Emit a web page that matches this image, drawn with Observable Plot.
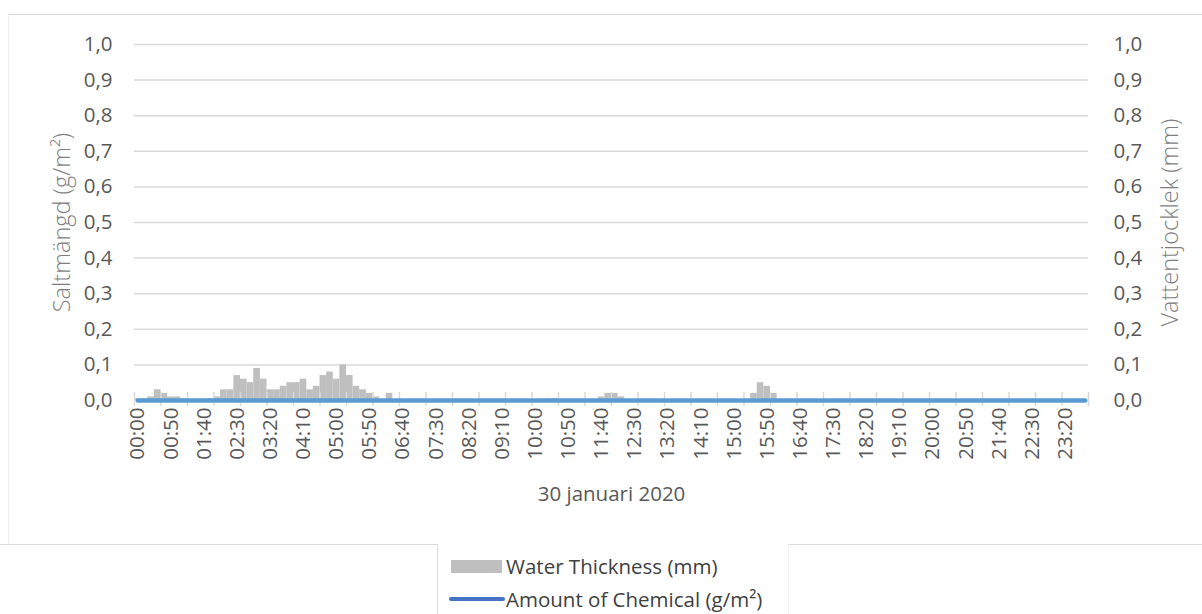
<!DOCTYPE html>
<html>
<head>
<meta charset="utf-8">
<script src="https://cdn.jsdelivr.net/npm/d3@7"></script>
<script src="https://cdn.jsdelivr.net/npm/@observablehq/plot@0.6"></script>
<style>
  html, body { margin: 0; padding: 0; background: #fff; overflow: hidden; }
  #wrap { position: relative; width: 1202px; height: 614px; font-family: "Open Sans", sans-serif; }
  .ln { position: absolute; background: #d9d9d9; }
  #legend { position: absolute; left: 438px; top: 545px; width: 349px; height: 69px; }
  .item { position: absolute; left: 0; display: flex; align-items: center; font-size: 20.5px; color: #404040; white-space: nowrap; letter-spacing: 0px; }
  .sw-bar { width: 51px; height: 13px; background: #bfbfbf; margin-left: 13px; margin-right: 4px; }
  .sw-line { width: 56px; height: 4px; background: #4472c4; border-radius: 2px; margin-left: 11px; margin-right: 1px; }
</style>
</head>
<body>
<div id="wrap">
  <div id="chart"></div>
  <div class="ln" style="left:8px; top:14px; width:1194px; height:1px;"></div>
  <div class="ln" style="left:8px; top:14px; width:1px; height:530px; background:#f0f0f0;"></div>
  <div class="ln" style="left:0px; top:544px; width:438px; height:1px;"></div>
  <div class="ln" style="left:788px; top:544px; width:414px; height:1px;"></div>
  <div class="ln" style="left:437px; top:544px; width:1px; height:70px;"></div>
  <div class="ln" style="left:788px; top:544px; width:1px; height:70px; background:#f0f0f0;"></div>
  <div id="legend">
    <div class="item" style="top:7px;"><span class="sw-bar"></span><span id="lg1"></span></div>
    <div class="item" style="top:40px;"><span class="sw-line"></span><span id="lg2"></span></div>
  </div>
</div>
<script>
// ---- data ----
const xTitle = "30 januari 2020";
const yLeftTitle = "Saltmängd (g/m²)";
const yRightTitle = "Vattentjocklek (mm)";
const seriesNames = ["Water Thickness (mm)", "Amount of Chemical (g/m²)"];

// 10-minute categories over the day
const times = [];
for (let h = 0; h < 24; h++) for (let m = 0; m < 60; m += 10)
  times.push(String(h).padStart(2, "0") + ":" + String(m).padStart(2, "0"));

const xTickLabels = ["00:00","00:50","01:40","02:30","03:20","04:10","05:00","05:50","06:40","07:30",
  "08:20","09:10","10:00","10:50","11:40","12:30","13:20","14:10","15:00","15:50","16:40","17:30",
  "18:20","19:10","20:00","20:50","21:40","22:30","23:20"];

const yTicks = [0, 0.1, 0.2, 0.3, 0.4, 0.5, 0.6, 0.7, 0.8, 0.9, 1.0];
const yTickLabels = ["0,0","0,1","0,2","0,3","0,4","0,5","0,6","0,7","0,8","0,9","1,0"];

// Water thickness (mm), one value per 10-minute category (144)
const water = [
  0.005,0.005,0.01,0.03,0.02,0.01,0.01,0.005,0,0,0,0.005,
  0.01,0.03,0.03,0.07,0.06,0.05,0.09,0.06,0.03,0.03,0.04,0.05,
  0.05,0.06,0.03,0.04,0.07,0.08,0.06,0.10,0.07,0.04,0.03,0.02,
  0.01,0,0.02,0,0,0,0,0,0,0,0,0,
  0,0,0,0,0,0,0,0,0,0,0,0,
  0,0,0.005,0.005,0,0,0,0,0,0,0.01,0.02,
  0.02,0.01,0,0,0,0,0,0,0,0,0,0,
  0,0,0,0,0,0,0,0,0,0.02,0.05,0.04,
  0.02,0,0,0,0,0,0,0,0,0,0,0,
  0,0,0,0,0,0,0,0,0,0,0,0,
  0,0,0,0,0,0,0,0,0,0,0,0,
  0,0,0,0,0,0,0,0,0,0,0,0
];

// Amount of chemical (g/m²), one value per category (144)
const chemical = [
  0,0,0,0,0,0,0,0,0,0,0,0, 0,0,0,0,0,0,0,0,0,0,0,0,
  0,0,0,0,0,0,0,0,0,0,0,0, 0,0,0,0,0,0,0,0,0,0,0,0,
  0,0,0,0,0,0,0,0,0,0,0,0, 0,0,0,0,0,0,0,0,0,0,0,0,
  0,0,0,0,0,0,0,0,0,0,0,0, 0,0,0,0,0,0,0,0,0,0,0,0,
  0,0,0,0,0,0,0,0,0,0,0,0, 0,0,0,0,0,0,0,0,0,0,0,0,
  0,0,0,0,0,0,0,0,0,0,0,0, 0,0,0,0,0,0,0,0,0,0,0,0
];

// ---- chart ----
const idx = times.map((t, i) => i);
const labelPos = xTickLabels.map(l => times.indexOf(l) + 0.5);
const tickMarkPos = d3.range(0, times.length + 1, 4);

const chart = Plot.plot({
  width: 1202,
  height: 544,
  marginLeft: 134,
  marginRight: 114,
  marginTop: 44,
  marginBottom: 144,
  style: { fontFamily: "Open Sans, sans-serif", fontSize: "20.5px", color: "#595959", background: "transparent" },
  x: { type: "linear", domain: [0, times.length], axis: null },
  y: { domain: [0, 1], axis: null },
  marks: [
    Plot.ruleY(yTicks.slice(1), { stroke: "#d9d9d9", strokeWidth: 1.5 }),
    Plot.rectY(idx, { x1: i => i, x2: i => i + 1, y: i => water[i], fill: "#bfbfbf" }),
    Plot.axisX({ ticks: tickMarkPos, tickFormat: () => "", tickSize: 14, dy: -8, stroke: "#d9d9d9", strokeWidth: 1.5 }),
    Plot.lineY(idx, { x: i => i + 0.5, y: i => chemical[i], stroke: "#5b9bd5", strokeWidth: 4.5, strokeLinecap: "round" }),
    Plot.axisX({ ticks: labelPos, tickFormat: d => xTickLabels[labelPos.indexOf(d)], tickRotate: -90, tickSize: 0, tickPadding: 7, fill: "#595959", label: null }),
    Plot.axisY({ anchor: "left", ticks: yTicks, tickFormat: d => yTickLabels[yTicks.indexOf(d)], tickSize: 0, tickPadding: 22, label: null }),
    Plot.axisY({ anchor: "right", ticks: yTicks, tickFormat: d => yTickLabels[yTicks.indexOf(d)], tickSize: 0, tickPadding: 25, label: null }),
    Plot.text([yLeftTitle], { text: d => d, frameAnchor: "left", textAnchor: "middle", dx: -72, rotate: -90, fontSize: 23.5, fontWeight: 300, fill: "#7f7f7f" }),
    Plot.text([yRightTitle], { text: d => d, frameAnchor: "right", textAnchor: "middle", dx: 82, rotate: -90, fontSize: 23.5, fontWeight: 300, fill: "#7f7f7f" }),
    Plot.text([xTitle], { text: d => d, frameAnchor: "bottom", dy: 100, fontSize: 20.5, fill: "#595959" })
  ]
});
document.getElementById("chart").appendChild(chart);
document.getElementById("lg1").textContent = seriesNames[0];
document.getElementById("lg2").textContent = seriesNames[1];
</script>
</body>
</html>
